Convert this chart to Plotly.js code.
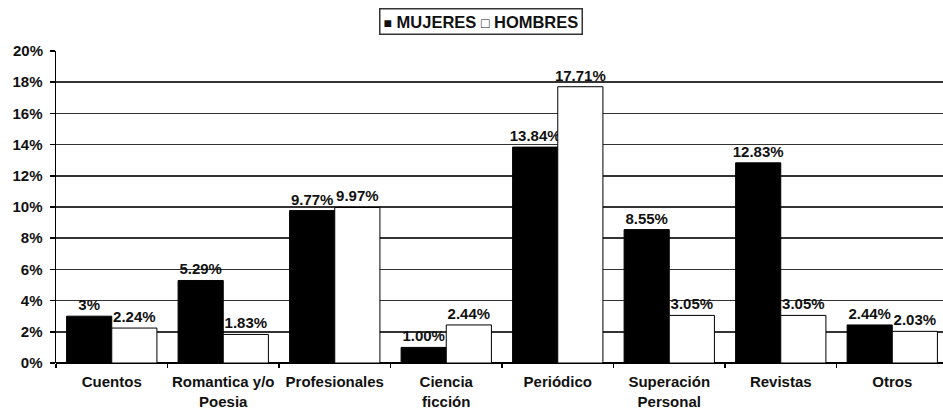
<!DOCTYPE html>
<html>
<head>
<meta charset="utf-8">
<script src="https://cdn.plot.ly/plotly-3.0.1.min.js"></script>
<style>html,body{margin:0;padding:0;background:#fff;overflow:hidden;}</style>
</head>
<body>
<div id="chart" style="width:943px;height:409px;"></div>
<script>
const categories = ["Cuentos", "Romantica y/o<br>Poesia", "Profesionales", "Ciencia<br>ficción", "Periódico", "Superación<br>Personal", "Revistas", "Otros"];
const mujeres = [3.00, 5.29, 9.77, 1.00, 13.84, 8.55, 12.83, 2.44];
const hombres = [2.24, 1.83, 9.97, 2.44, 17.71, 3.05, 3.05, 2.03];
const mujeresLabels = ["3%", "5.29%", "9.77%", "1.00%", "13.84%", "8.55%", "12.83%", "2.44%"];
const hombresLabels = ["2.24%", "1.83%", "9.97%", "2.44%", "17.71%", "3.05%", "3.05%", "2.03%"];
const seriesNames = ["MUJERES", "HOMBRES"];
const yTicks = [0, 2, 4, 6, 8, 10, 12, 14, 16, 18];
const yTopTick = [20];
const tickText = v => v + "%";

const FAM = "Liberation Sans, Arial, sans-serif";
const font = {family: FAM, size: 15, color: "#111"};
const boldFont = {family: FAM, size: 15, color: "#111", weight: "bold"};

const traces = [
  {type: "bar", name: seriesNames[0], x: categories, y: mujeres, text: mujeresLabels,
   textposition: "outside", textfont: boldFont, cliponaxis: false, constraintext: "none",
   marker: {color: "#000", line: {color: "#000", width: 1}}, hoverinfo: "skip"},
  {type: "bar", name: seriesNames[1], x: categories, y: hombres, text: hombresLabels,
   textposition: "outside", textfont: boldFont, cliponaxis: false, constraintext: "none",
   marker: {color: "#fff", line: {color: "#000", width: 1}}, hoverinfo: "skip"}
];

const legendText = "<span style='font-size:14px'>■</span> " + seriesNames[0] +
                   " <span style='font-size:14px'>□</span> " + seriesNames[1];

const axisFont = {family: FAM, size: 15, color: "#111", weight: "bold"};

const layout = {
  width: 943, height: 409,
  margin: {l: 56, r: 0, t: 51, b: 46},
  paper_bgcolor: "#fff", plot_bgcolor: "#fff",
  font: font,
  barmode: "group", bargap: 0.19, bargroupgap: 0,
  showlegend: false,
  xaxis: {type: "category", range: [-0.5, 7.455], tickson: "boundaries", ticks: "outside",
          ticklen: 4, tickcolor: "#000", tickwidth: 1.5, showline: false, tickangle: 0,
          tickfont: axisFont, ticklabelstandoff: 8,
          showgrid: false, fixedrange: true},
  yaxis: {range: [0, 20], tickvals: yTicks, ticktext: yTicks.map(tickText), ticks: "outside",
          ticklen: 5, tickcolor: "#000", tickwidth: 1.5,
          showline: true, linecolor: "#000", linewidth: 1.5,
          showgrid: true, gridcolor: "#333", gridwidth: 1.5,
          zeroline: true, zerolinecolor: "#000", zerolinewidth: 1.5,
          tickfont: axisFont, ticklabelstandoff: 4, fixedrange: true},
  yaxis2: {overlaying: "y", side: "left", range: [0, 20], tickvals: yTopTick,
           ticktext: yTopTick.map(tickText), ticks: "outside",
           ticklen: 5, tickcolor: "#000", tickwidth: 1.5, showline: false,
           showgrid: true, gridcolor: "#d4d4d4", gridwidth: 2, zeroline: false,
           tickfont: axisFont, ticklabelstandoff: 4, fixedrange: true},
  annotations: [{xref: "paper", yref: "paper", x: 0.4795, y: 1.138, xanchor: "center", yanchor: "top",
                 text: legendText, showarrow: false,
                 font: {family: FAM, size: 16.5, color: "#111", weight: "bold"},
                 bordercolor: "#333", borderwidth: 1.5, borderpad: 3, bgcolor: "#fff"}]
};

// invisible helper trace so the second y axis (top tick) is drawn
traces.push({type: "scatter", x: [categories[0]], y: [0], yaxis: "y2", mode: "markers",
             marker: {opacity: 0}, hoverinfo: "skip", showlegend: false});

Plotly.newPlot("chart", traces, layout, {displayModeBar: false, staticPlot: true});
</script>
</body>
</html>
